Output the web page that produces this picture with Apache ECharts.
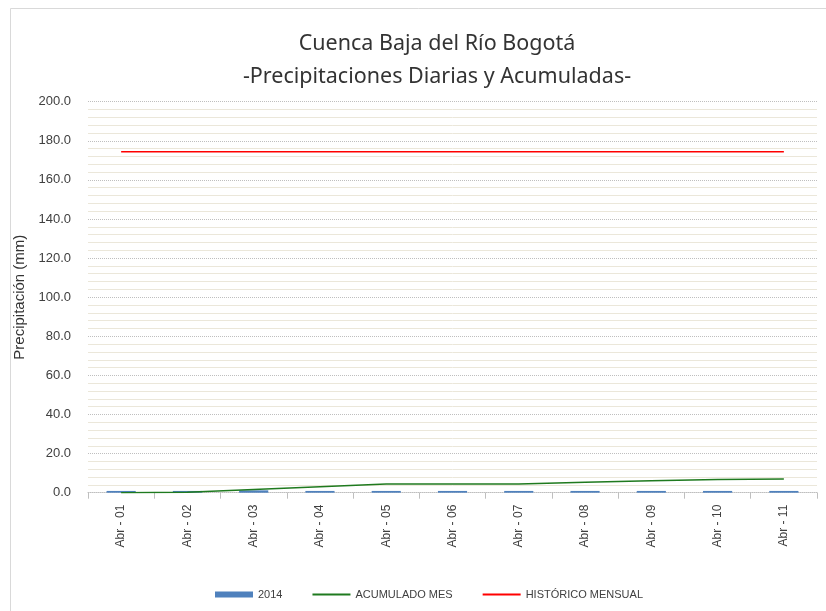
<!DOCTYPE html>
<html><head><meta charset="utf-8">
<script src="https://cdn.jsdelivr.net/npm/echarts@6/dist/echarts.min.js"></script>
<style>html,body{margin:0;padding:0;background:#fff}#c{width:826px;height:611px}</style>
</head><body><div id="c"></div>
<script>
const categories = ['Abr - 01','Abr - 02','Abr - 03','Abr - 04','Abr - 05','Abr - 06','Abr - 07','Abr - 08','Abr - 09','Abr - 10','Abr - 11'];
const daily2014 = [0.9, 0.9, 1.2, 0.9, 0.9, 0.9, 0.9, 0.9, 0.9, 0.9, 0.9];
const acumuladoMes = [0.0, 0.2, 1.6, 3.1, 4.4, 4.4, 4.5, 5.3, 6.1, 6.8, 7.0];
const historicoMensual = [174.4, 174.4, 174.4, 174.4, 174.4, 174.4, 174.4, 174.4, 174.4, 174.4, 174.4];

const chart = echarts.init(document.getElementById('c'), null, {renderer:'canvas'});
const txt = '#404040';
chart.setOption({
  animation: false,
  backgroundColor: '#fff',
  textStyle: {fontFamily: 'Liberation Sans'},
  graphic: [{type:'rect', shape:{x:10.5, y:8.5, width:830, height:620}, style:{fill:'none', stroke:'#d9d9d9', lineWidth:1}}],
  title: {
    text: 'Cuenca Baja del Río Bogotá\n-Precipitaciones Diarias y Acumuladas-',
    left: 432, top: 22, textAlign: 'center',
    textStyle: {fontFamily:'Noto Sans', fontSize: 21.5, fontWeight: 'normal', color: '#333', lineHeight: 33}
  },
  legend: {
    left: 210, top: 584, itemGap: 29, itemWidth: 38, itemHeight: 6,
    textStyle: {fontSize: 11, color: txt},
    data: [
      {name:'2014', icon:'rect'},
      {name:'ACUMULADO MES', itemStyle:{opacity:0}},
      {name:'HISTÓRICO MENSUAL', itemStyle:{opacity:0}}
    ]
  },
  grid: {left: 88, right: 9, top: 101.7, bottom: 118.3, containLabel: false},
  xAxis: {
    type: 'category', data: categories, boundaryGap: true,
    axisLine: {show: true, lineStyle: {color: '#bfbfbf', type: 'dotted'}},
    axisTick: {show: true, interval: 0, length: 6, lineStyle: {color: '#bfbfbf'}},
    axisLabel: {rotate: 90, interval: 0, fontSize: 12, color: txt, margin: 12}
  },
  yAxis: {
    type: 'value', min: 0, max: 200, interval: 20,
    name: 'Precipitación (mm)', nameLocation: 'middle', nameGap: 56,
    nameTextStyle: {fontSize: 15, color: '#333'},
    axisLine: {show: false}, axisTick: {show: false},
    axisLabel: {fontSize: 13, color: txt, margin: 17, formatter: v => v.toFixed(1)},
    splitLine: {show: true, lineStyle: {color: '#bfbfbf', type: 'dotted'}},
    minorTick: {show: false, splitNumber: 5},
    minorSplitLine: {show: true, lineStyle: {color: '#ebe7da', width: 1}}
  },
  series: [
    {name:'2014', type:'bar', data: daily2014, barWidth: '44%', itemStyle:{color:'#4f81bd'}},
    {name:'ACUMULADO MES', type:'line', data: acumuladoMes, symbol:'none', lineStyle:{color:'#1f7a1f', width:1.5}, itemStyle:{color:'#1f7a1f'}},
    {name:'HISTÓRICO MENSUAL', type:'line', data: historicoMensual, symbol:'none', lineStyle:{color:'#ff0000', width:1.5}, itemStyle:{color:'#ff0000'}}
  ]
});
</script></body></html>
